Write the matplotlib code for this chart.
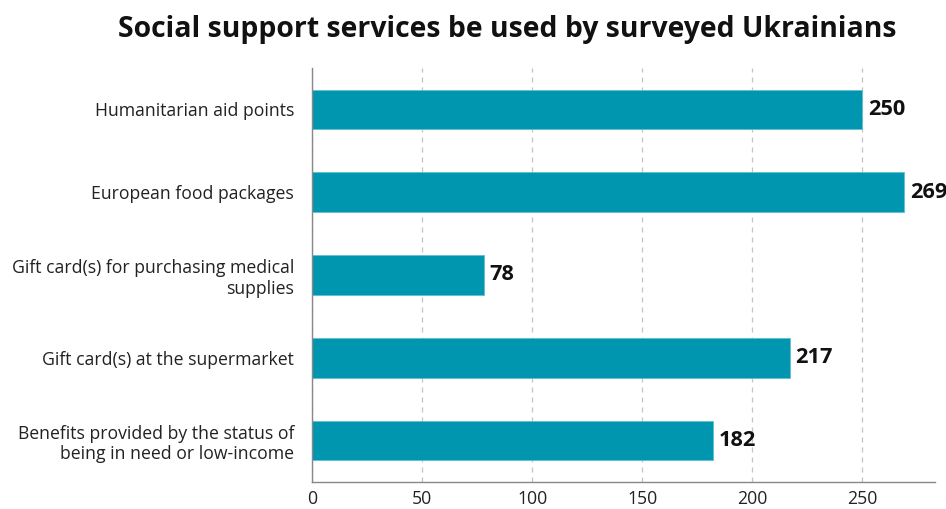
import matplotlib
matplotlib.use("Agg")
import matplotlib.pyplot as plt

categories = [
    "Humanitarian aid points",
    "European food packages",
    "Gift card(s) for purchasing medical\nsupplies",
    "Gift card(s) at the supermarket",
    "Benefits provided by the status of\nbeing in need or low-income",
]
values = [250, 269, 78, 217, 182]
xticks = [0, 50, 100, 150, 200, 250]

plt.rcParams["font.family"] = ["Open Sans", "DejaVu Sans"]

fig = plt.figure(figsize=(9.46, 5.09), dpi=100)
ax = fig.add_axes([312 / 946, 1 - 482 / 509, (935 - 312) / 946, (482 - 68) / 509])

ypos = list(range(len(categories)))
ax.barh(ypos, values, height=0.48, color="#0096b0", edgecolor="#5fc0d2", linewidth=0.6)
ax.set_ylim(len(categories) - 0.5, -0.5)
ax.set_xlim(0, 283)
ax.set_yticks(ypos)
ax.set_yticklabels(categories, fontsize=12.7, color="#222222", linespacing=1.2)
ax.set_xticks(xticks)
ax.set_xticklabels([str(t) for t in xticks], fontsize=12.7, color="#222222")
ax.tick_params(axis="both", length=0)
ax.tick_params(axis="x", pad=6)
ax.tick_params(axis="y", pad=13)

ax.grid(axis="x", linestyle=(0, (4, 4)), color="#c4c4c4", linewidth=0.9)
ax.set_axisbelow(True)
for side in ("top", "right"):
    ax.spines[side].set_visible(False)
for side in ("left", "bottom"):
    ax.spines[side].set_color("#888888")
    ax.spines[side].set_linewidth(1.0)

for y, v in zip(ypos, values):
    ax.text(v + 2.6, y, str(v), va="center", ha="left", fontsize=15.7, fontweight="bold", color="#111111")

fig.text(507 / 946, 1 - 30 / 509, "Social support services be used by surveyed Ukrainians",
         ha="center", va="center", fontsize=20.4, fontweight="bold", color="#111111")

fig.savefig("out.png", dpi=100)
